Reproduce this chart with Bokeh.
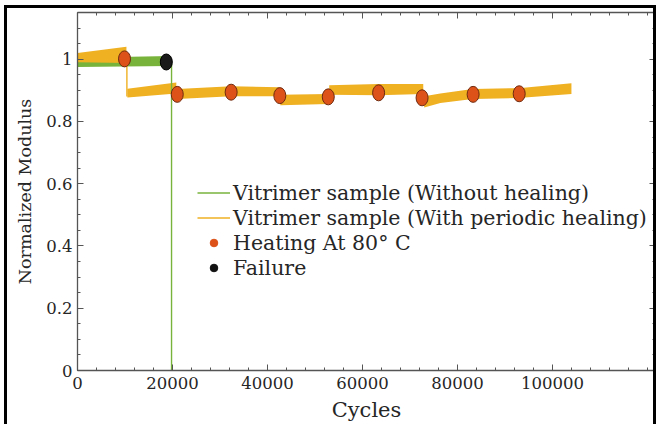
from bokeh.plotting import figure
from bokeh.models import (LinearAxis, FixedTicker, PrintfTickFormatter, CustomJSTickFormatter,
                          Legend, LegendItem, Range1d)
from bokeh.embed import file_html
from bokeh.resources import INLINE

# ---------------- data ----------------
# Vitrimer sample without healing: noisy band (lower / upper envelope)
nohl_x = [0, 19600]
nohl_lo = [0.975, 0.978]
nohl_hi = [1.005, 1.010]
nohl_drop_x = [19800, 19800]
nohl_drop_y = [0.985, 0.0]

# Vitrimer sample with periodic healing: band segments between heatings
s1_x = [0, 10300];                      s1_lo = [0.990, 0.988];  s1_hi = [1.020, 1.040]
s2_x = [10500, 20800];                  s2_lo = [0.877, 0.890];  s2_hi = [0.905, 0.925]
s3_x = [21000, 32400, 42500];           s3_lo = [0.872, 0.881, 0.881]; s3_hi = [0.904, 0.913, 0.910]
s4_x = [42700, 52800];                  s4_lo = [0.852, 0.856];  s4_hi = [0.886, 0.888]
s5_x = [53000, 63400, 72800];           s5_lo = [0.886, 0.884, 0.888]; s5_hi = [0.916, 0.920, 0.920]
s6_x = [73000, 76400, 83200, 92800, 104000]
s6_lo = [0.845, 0.859, 0.872, 0.875, 0.888]
s6_hi = [0.881, 0.890, 0.904, 0.907, 0.923]
heal_drop_x = [10400, 10400]
heal_drop_y = [0.99, 0.88]

# Heating events and failure
heat_x = [9900, 21000, 32350, 42600, 52800, 63400, 72550, 83300, 93000]
heat_y = [1.001, 0.887, 0.894, 0.883, 0.879, 0.892, 0.876, 0.887, 0.889]
fail_x = [18700]
fail_y = [0.991]

x_ticks = [0, 20000, 40000, 60000, 80000, 100000]
y_ticks = [0, 0.2, 0.4, 0.6, 0.8, 1.0]

GREEN = "#78b43c"
ORANGE = "#efb022"
HEAT = "#dc5218"
FONT = "DejaVu Serif"
TXT = "#262626"
AX = "#555555"

p = figure(width=652, height=419, output_backend="svg", toolbar_location=None,
           x_range=Range1d(0, 121700), y_range=Range1d(0, 1.15),
           min_border_left=70, min_border_right=4, min_border_top=4, min_border_bottom=57)
p.styles = {"border-left": "3px solid #000", "border-top": "3px solid #000",
            "border-right": "3px solid #000", "margin-left": "4px", "margin-top": "5px"}
p.grid.visible = False
p.outline_line_color = None
p.background_fill_color = "white"
p.border_fill_color = "white"

# green band
p.varea(x=nohl_x, y1=nohl_lo, y2=nohl_hi, fill_color=GREEN)
# orange bands
for sx, lo, hi in [(s1_x, s1_lo, s1_hi), (s2_x, s2_lo, s2_hi), (s3_x, s3_lo, s3_hi),
                   (s4_x, s4_lo, s4_hi), (s5_x, s5_lo, s5_hi), (s6_x, s6_lo, s6_hi)]:
    p.varea(x=sx, y1=lo, y2=hi, fill_color=ORANGE)
r_heal = p.line(heal_drop_x, heal_drop_y, line_color=ORANGE, line_width=1.4)
r_nohl = p.line(nohl_drop_x, nohl_drop_y, line_color=GREEN, line_width=1.4)

# tiny markers (hidden under the ellipses) that provide the legend symbols
r_heat_lg = p.scatter(x=heat_x, y=heat_y, size=1, fill_color=HEAT, line_color=HEAT)
r_fail_lg = p.scatter(x=fail_x, y=fail_y, size=1, fill_color="#111111", line_color="#111111")

p.ellipse(x=heat_x, y=heat_y, width=12, height=16, width_units="screen", height_units="screen",
          fill_color=HEAT, line_color="#6e2a10", line_width=1)
p.ellipse(x=fail_x, y=fail_y, width=12, height=16, width_units="screen", height_units="screen",
          fill_color="#1a1a1a", line_color="#000000", line_width=1)

legend = Legend(items=[LegendItem(label="Vitrimer sample (Without healing)", renderers=[r_nohl]),
                       LegendItem(label="Vitrimer sample (With periodic healing)", renderers=[r_heal]),
                       LegendItem(label="Heating At 80° C", renderers=[r_heat_lg]),
                       LegendItem(label="Failure", renderers=[r_fail_lg])],
                location=(120, 90), padding=0, margin=0, spacing=0,
                glyph_width=33, glyph_height=19, label_height=25, label_standoff=3,
                background_fill_alpha=0, border_line_alpha=0,
                label_text_font=FONT, label_text_font_size="20.5px", label_text_color=TXT)
p.add_layout(legend, "center")

def style(ax, labels=True):
    ax.axis_line_color = AX
    ax.axis_line_width = 1.3
    ax.major_tick_line_color = AX
    ax.minor_tick_line_color = AX
    ax.major_tick_in = 6
    ax.major_tick_out = 0
    ax.minor_tick_in = 3
    ax.minor_tick_out = 0
    if labels:
        ax.major_label_text_font = FONT
        ax.major_label_text_font_size = "16.5px"
        ax.major_label_text_color = TXT
        ax.axis_label_text_font = FONT
        ax.axis_label_text_font_style = "normal"
        ax.axis_label_text_color = TXT
    else:
        ax.formatter = CustomJSTickFormatter(code="return ''")
        ax.major_label_text_font_size = "1px"
        ax.major_label_standoff = 0

xminor = list(range(0, 121700, 4000))
yminor = [i * 0.05 for i in range(0, 24)]

xa = p.xaxis[0]
xa.ticker = FixedTicker(ticks=x_ticks, minor_ticks=xminor)
xa.formatter = PrintfTickFormatter(format="%d")
xa.axis_label = "Cycles"
xa.major_label_standoff = 6
xa.axis_label_standoff = 6
style(xa)
xa.axis_label_text_font_size = "21px"

ya = p.yaxis[0]
ya.ticker = FixedTicker(ticks=y_ticks, minor_ticks=yminor)
ya.formatter = PrintfTickFormatter(format="%g")
ya.axis_label = "Normalized Modulus"
ya.major_label_standoff = 5
ya.axis_label_standoff = 8
style(ya)
ya.axis_label_text_font_size = "17.5px"

top = LinearAxis(ticker=FixedTicker(ticks=x_ticks, minor_ticks=xminor))
style(top, labels=False)
p.add_layout(top, "above")
right = LinearAxis(ticker=FixedTicker(ticks=y_ticks, minor_ticks=yminor))
style(right, labels=False)
p.add_layout(right, "right")

open("out.html", "w").write(file_html(p, INLINE))
